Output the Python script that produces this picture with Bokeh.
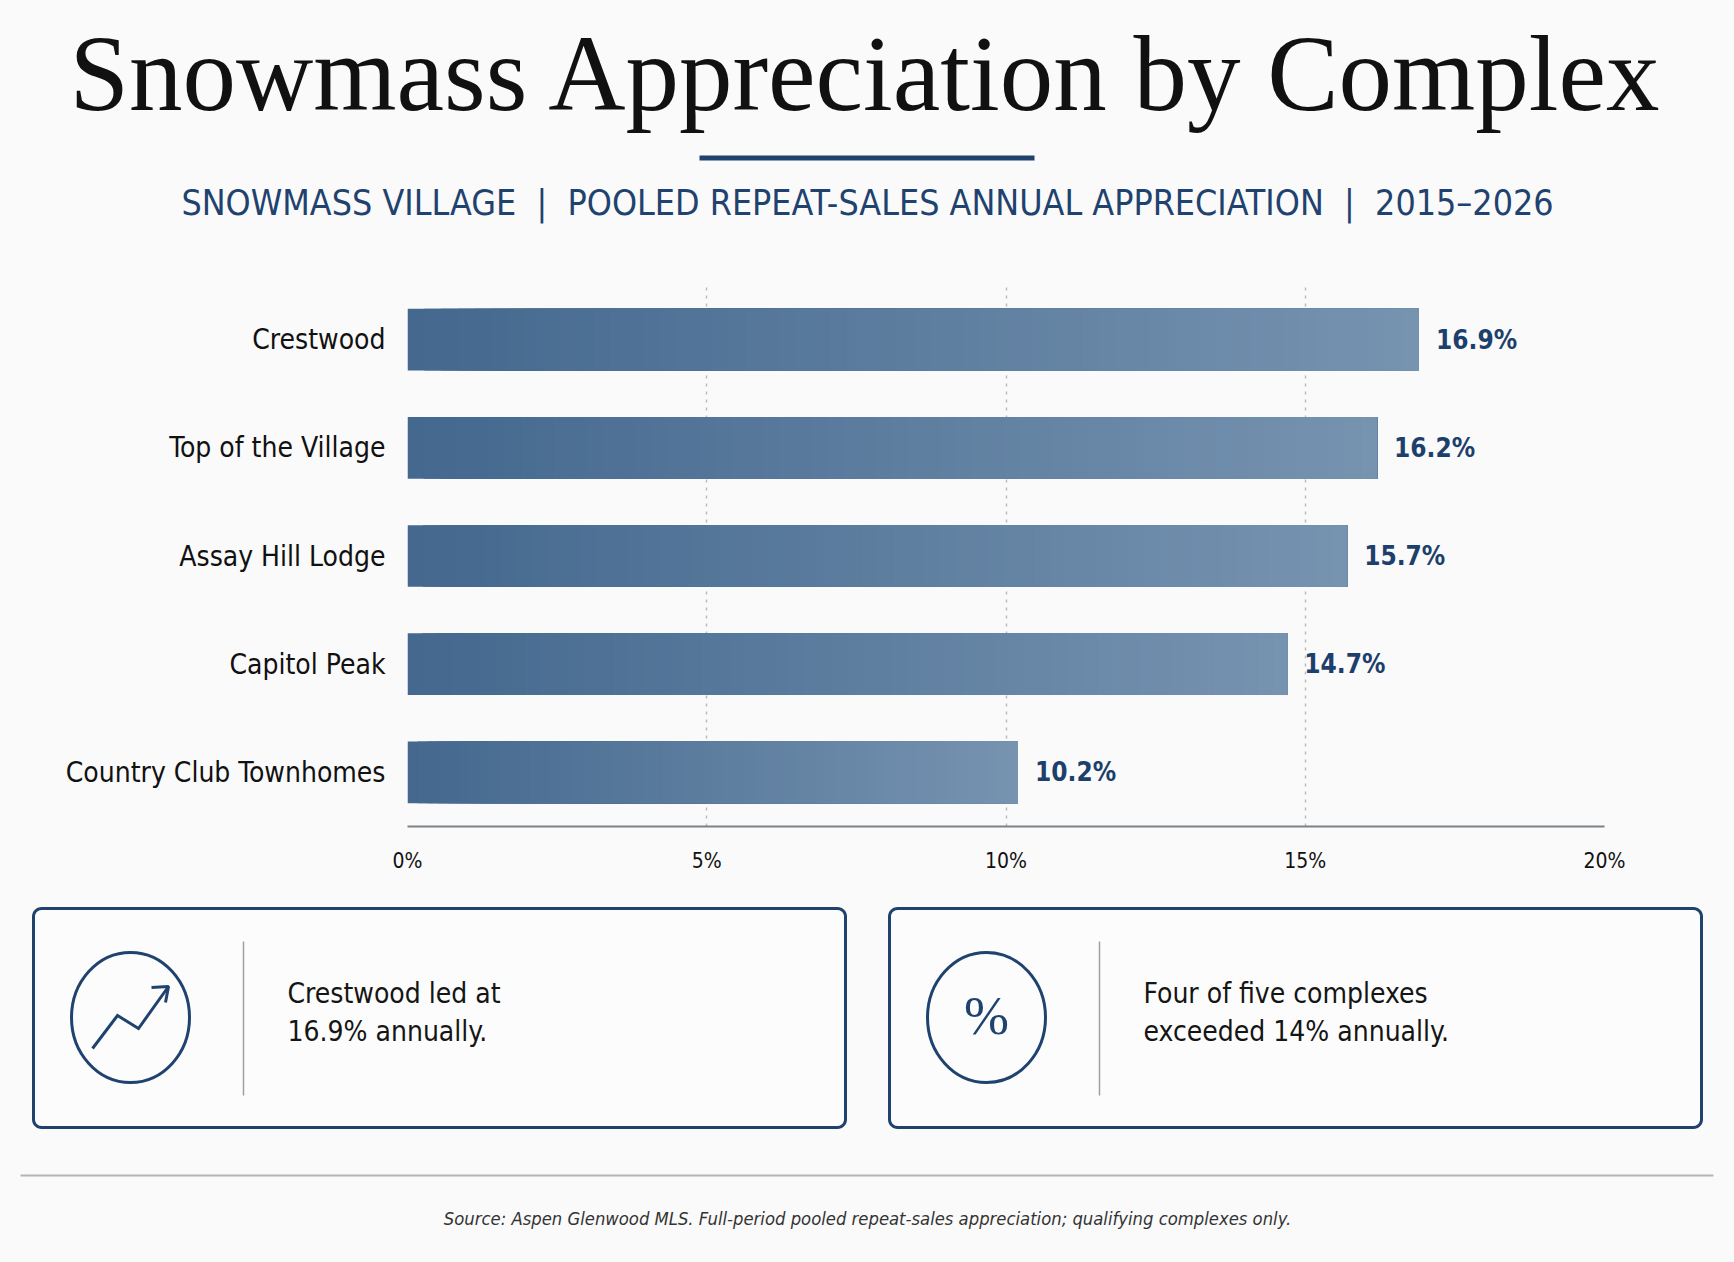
import math

from bokeh.plotting import figure
from bokeh.models import Range1d, FixedTicker, LinearScale
from bokeh.core.properties import value
from bokeh.embed import file_html
from bokeh.resources import INLINE

# chart data
complexes = ["Crestwood", "Top of the Village", "Assay Hill Lodge",
             "Capitol Peak", "Country Club Townhomes"]
appreciation = [16.9, 16.2, 15.7, 14.7, 10.2]
x_ticks = [0, 5, 10, 15, 20]
x_tick_labels = ["0%", "5%", "10%", "15%", "20%"]

title = "Snowmass Appreciation by Complex"
subtitle = ("SNOWMASS VILLAGE \u00a0|\u00a0 POOLED REPEAT-SALES ANNUAL "
            "APPRECIATION \u00a0|\u00a0 2015\u20132026")
insights = [["Crestwood led at", "16.9% annually."],
            ["Four of five complexes", "exceeded 14% annually."]]
source = ("Source: Aspen Glenwood MLS. Full-period pooled repeat-sales "
          "appreciation; qualifying complexes only.")

W, H = 1734, 1262
BG = "#fafafa"
NAVY = "#1f426f"
SERIF = "Liberation Serif"
SANS = "DejaVu Sans Condensed"

# frame of the bar chart, in canvas pixels
FL, FR, FT, FB = 407, 1604, 285, 826


def base(baseline, size):
    # the text glyph sits a bit low with "alphabetic"; lift it onto the baseline
    return baseline - 0.37 * size


def rounded_box(left, right, top, bottom, r, steps=8):
    xs, ys = [], []
    corners = [(right - r, top + r, -90), (right - r, bottom - r, 0),
               (left + r, bottom - r, 90), (left + r, top + r, 180)]
    for cx, cy, a0 in corners:
        for s in range(steps + 1):
            a = math.radians(a0 + 90 * s / steps)
            xs.append(cx + r * math.cos(a))
            ys.append(cy + r * math.sin(a))
    return xs, ys


# first complex on top
n = len(complexes)
rows = [n - 1 - i for i in range(n)]

p = figure(y_range=Range1d(-0.5, n - 0.5), x_range=Range1d(0, 20),
           width=W, height=H, frame_width=FR - FL, frame_height=FB - FT,
           min_border_left=FL, min_border_right=W - FR,
           min_border_top=FT, min_border_bottom=H - FB,
           output_backend="svg", toolbar_location=None)
p.outline_line_color = None
p.background_fill_color = BG
p.border_fill_color = BG

# pixel ranges for the header, cards and footer (drawn unclipped, y downwards)
p.extra_x_ranges = {"px": Range1d(FL, FR)}
p.extra_y_ranges = {"py": Range1d(FB, FT)}
p.extra_x_scales = {"px": LinearScale()}
p.extra_y_scales = {"py": LinearScale()}
PX = dict(x_range_name="px", y_range_name="py", level="overlay")

# horizontal gradient: stacked slices, each later one drawn over the right part
N = 60
c0 = (68, 104, 142)
c1 = (118, 147, 176)
ys, lefts, rights, cols = [], [], [], []
for row, v in zip(rows, appreciation):
    for k in range(N):
        t = k / (N - 1)
        rgb = tuple(round(a + (b - a) * t) for a, b in zip(c0, c1))
        ys.append(row)
        lefts.append(v * k / N)
        rights.append(v)
        cols.append("#%02x%02x%02x" % rgb)
p.hbar(y=ys, left=lefts, right=rights, height=0.57,
       fill_color=cols, line_color=None)

p.text(x=appreciation, y=rows, text=[f"{v:.1f}%" for v in appreciation],
       x_offset=17, text_baseline="middle", text_font=value(SANS),
       text_font_size="26px", text_font_style="bold", text_color="#1d3f6c")

p.xaxis.ticker = FixedTicker(ticks=x_ticks)
p.xaxis.major_label_overrides = dict(zip(x_ticks, x_tick_labels))
p.xaxis.axis_line_color = "#7c8187"
p.xaxis.axis_line_width = 2
p.xaxis.major_tick_line_color = None
p.xaxis.minor_tick_line_color = None
p.xaxis.major_tick_out = 0
p.xaxis.major_tick_in = 0
p.xaxis.major_label_standoff = 22
p.xaxis.major_label_text_font = SANS
p.xaxis.major_label_text_font_size = "21px"
p.xaxis.major_label_text_color = "#111111"

p.yaxis.ticker = FixedTicker(ticks=rows)
p.yaxis.major_label_overrides = dict(zip(rows, complexes))
p.yaxis.axis_line_color = None
p.yaxis.major_tick_line_color = None
p.yaxis.minor_tick_line_color = None
p.yaxis.major_tick_out = 0
p.yaxis.major_tick_in = 0
p.yaxis.major_label_standoff = 22
p.yaxis.major_label_text_font = SANS
p.yaxis.major_label_text_font_size = "28px"
p.yaxis.major_label_text_color = "#111111"

p.ygrid.grid_line_color = None
p.xgrid.grid_line_color = "#bcbcbc"
p.xgrid.grid_line_width = 1.5
p.xgrid.grid_line_dash = "3 5"

# --- header ---
p.text(x=[W / 2], y=[base(113, 107)], text=[title], text_font=value(SERIF),
       text_font_size="107px", text_align="center",
       text_baseline="alphabetic", text_color="#111111", **PX)
p.quad(left=[699], right=[1034], top=[155], bottom=[160],
       fill_color=NAVY, line_color=None, **PX)
p.text(x=[W / 2], y=[base(215, 35.5)], text=[subtitle], text_font=value(SANS),
       text_font_size="35.5px", text_align="center",
       text_baseline="alphabetic", text_color=NAVY, **PX)

# --- insight cards ---
card_lefts = [33, 889]
for cl, lines in zip(card_lefts, insights):
    bx, by = rounded_box(cl, cl + 812, 908, 1127, 8)
    p.patch(bx, by, fill_color="#fcfcfc", line_color=NAVY, line_width=3, **PX)
    p.ellipse(x=[cl + 97], y=[1017], width=118, height=130,
              fill_color=None, line_color=NAVY, line_width=3, **PX)
    p.segment(x0=[cl + 210], y0=[941], x1=[cl + 210], y1=[1095],
              line_color="#9aa0a6", line_width=1.5, **PX)
    p.text(x=[cl + 254] * 2, y=[base(1003, 28), base(1041, 28)], text=lines,
           text_font=value(SANS), text_font_size="28px",
           text_baseline="alphabetic", text_color="#151515", **PX)

# rising-line icon on the first card, percent sign on the second
p.line(x=[92, 117, 138, 168], y=[1048, 1015, 1028, 986],
       line_color=NAVY, line_width=3, line_join="miter", **PX)
p.line(x=[151, 168, 165], y=[987, 986, 1002],
       line_color=NAVY, line_width=3, **PX)
p.text(x=[card_lefts[1] + 97], y=[1015], text=["%"], text_font=value(SERIF),
       text_font_size="54px", text_align="center", text_baseline="middle",
       text_color=NAVY, **PX)

# --- footer ---
p.segment(x0=[20], y0=[1175], x1=[1713], y1=[1175],
          line_color="#b4b4b4", line_width=2, **PX)
p.text(x=[W / 2], y=[base(1225, 18.3)], text=[source], text_font=value(SANS),
       text_font_size="18.3px", text_font_style="italic", text_align="center",
       text_baseline="alphabetic", text_color="#333333", **PX)

html = file_html(p, INLINE)
html = html.replace("</head>", "<style>body{background:#fafafa;}</style></head>", 1)
open("out.html", "w").write(html)
